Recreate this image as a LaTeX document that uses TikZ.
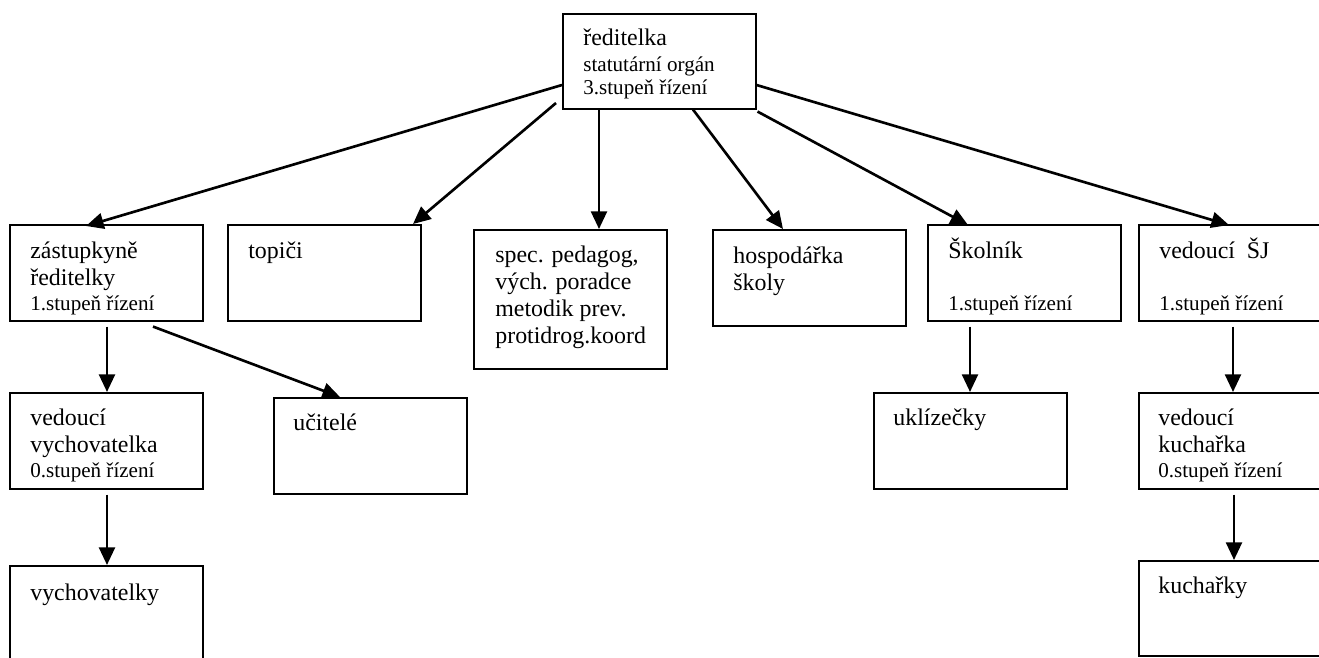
\documentclass[tikz,border=0pt]{standalone}
\usepackage{fontspec}
\setmainfont{Liberation Serif}
\usetikzlibrary{positioning, arrows.meta, calc}
\newcommand{\lvl}{\fontsize{12}{13.2}\selectfont}

\begin{document}
\begin{tikzpicture}[x=0.02cm, y=-0.02cm, >={Triangle[length=10pt, width=9pt]},
  box/.style={draw, line width=0.9pt, anchor=north west, inner sep=0pt,
    minimum width=3.86cm, minimum height=1.92cm},
  txt/.style={anchor=base west, align=left, inner sep=0pt,
    font=\fontsize{13.6}{15.3}\selectfont},
  arr/.style={->, line width=1.5pt}]
\useasboundingbox (0,0) rectangle (1319,657);
\clip (0,0) rectangle (1319,657);
% boxes
\node[box, minimum height=1.9cm] (red) at (562,13) {};
\node[box] (zast) at (9,224) {};
\node[box] (topici) at (227,224) {};
\node[box, minimum height=2.78cm] (spec) at (473,229) {};
\node[box] (hosp) at (712,229) {};
\node[box] (skol) at (927,224) {};
\node[box] (vedsj) at (1138,224) {};
\node[box] (vedvych) at (9,392) {};
\node[box] (ucit) at (273,397) {};
\node[box, minimum height=2.3cm] (vych) at (9,565) {};
\node[box] (ukliz) at (873,392) {};
\node[box] (vedkuch) at (1138,392) {};
\node[box, minimum height=1.9cm] (kuch) at (1138,560) {};
% texts (placed at the baseline of the last line)
\node[txt] (red-t) at ($(red.north west)+(21,81)$) {ředitelka\\[-0.6pt]{\lvl statutární orgán}\\[-2.3pt]{\lvl 3.stupeň řízení}};
\node[txt] (zast-t) at ($(zast.north west)+(21,86)$) {zástupkyně\\ředitelky\\[-1.1pt]{\lvl 1.stupeň řízení}};
\node[txt] (topici-t) at ($(topici.north west)+(21,34)$) {topiči};
\node[txt] (spec-t) at ($(spec.north west)+(22,114)$) {spec. pedagog,\\vých. poradce\\metodik prev.\\protidrog.koord};
\node[txt] (hosp-t) at ($(hosp.north west)+(21,61)$) {hospodářka\\školy};
\node[txt] (skol-t) at ($(skol.north west)+(21,86)$) {Školník\\[14.2pt]{\lvl 1.stupeň řízení}};
\node[txt] (vedsj-t) at ($(vedsj.north west)+(21,86)$) {vedoucí~~ŠJ\\[14.2pt]{\lvl 1.stupeň řízení}};
\node[txt] (vedvych-t) at ($(vedvych.north west)+(21,85)$) {vedoucí\\vychovatelka\\[-1.1pt]{\lvl 0.stupeň řízení}};
\node[txt] (ucit-t) at ($(ucit.north west)+(20,33)$) {učitelé};
\node[txt] (vych-t) at ($(vych.north west)+(21,35)$) {vychovatelky};
\node[txt] (ukliz-t) at ($(ukliz.north west)+(20,33)$) {uklízečky};
\node[txt] (vedkuch-t) at ($(vedkuch.north west)+(20,85)$) {vedoucí\\kuchařka\\[-1.1pt]{\lvl 0.stupeň řízení}};
\node[txt] (kuch-t) at ($(kuch.north west)+(20,33)$) {kuchařky};
% connectors
\draw[arr] ($(red.north west)+(0,72)$) -- ($(zast.north west)+(77,2)$);
\draw[arr] ($(red.north west)+(-6,90)$) -- ($(topici.north west)+(186,0)$);
\draw[arr] ($(red.south west)+(37,0)$) -- ($(spec.north west)+(126,0)$);
\draw[arr] ($(red.south west)+(131,0)$) -- ($(hosp.north west)+(71,0)$);
\draw[arr] ($(red.south east)+(1,2)$) -- ($(skol.north west)+(41,1)$);
\draw[arr] ($(red.north east)+(0,72)$) -- ($(vedsj.north west)+(91,1)$);
\draw[arr] ($(zast.south west)+(98,5)$) -- ($(vedvych.north west)+(98,0)$);
\draw[arr] ($(zast.south west)+(144,5)$) -- ($(ucit.north west)+(67,0)$);
\draw[arr] ($(vedvych.south west)+(98,5)$) -- ($(vych.north west)+(98,0)$);
\draw[arr] ($(skol.south west)+(43,5)$) -- ($(ukliz.north west)+(97,0)$);
\draw[arr] ($(vedsj.south west)+(95,5)$) -- ($(vedkuch.north west)+(95,0)$);
\draw[arr] ($(vedkuch.south west)+(96,5)$) -- ($(kuch.north west)+(96,0)$);
\end{tikzpicture}
\end{document}
